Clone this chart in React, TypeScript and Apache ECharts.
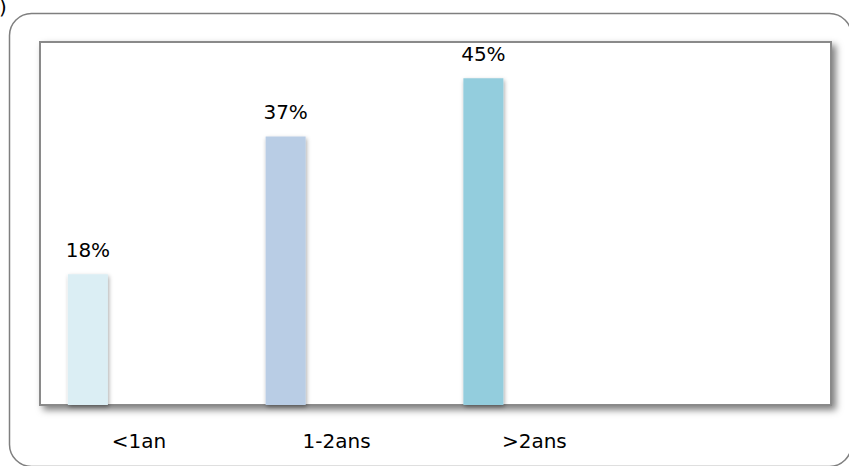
import React, { useEffect, useRef } from "react";
import * as echarts from "echarts";

// Share of respondents by seniority
const categories = ["<1an", "1-2ans", ">2ans", ""];
const shares = [18, 37, 45, null];
const barColors = ["#DBEEF4", "#B9CDE5", "#93CDDD"];
const yMax = 50;

const FONT = "DejaVu Sans";

export default function App() {
  const ref = useRef<HTMLDivElement>(null);

  useEffect(() => {
    if (!ref.current) return;
    const chart = echarts.init(ref.current, null, { renderer: "svg" });

    const data = shares.map((v, i) =>
      v === null
        ? null
        : { value: v, itemStyle: { color: barColors[i % barColors.length] } }
    );

    chart.setOption({
      animation: false,
      backgroundColor: "#ffffff",
      textStyle: { fontFamily: FONT },
      graphic: [
        {
          type: "rect",
          z: -10,
          shape: { x: 9.5, y: 13.5, width: 842, height: 453, r: 22 },
          style: { fill: "#ffffff", stroke: "#7f7f7f", lineWidth: 1.5 },
        },
        {
          type: "text",
          x: -1,
          y: -3,
          style: {
            text: ")",
            font: `20px '${FONT}'`,
            fill: "#000000",
            textVerticalAlign: "alphabetic",
          },
        },
      ],
      grid: {
        left: 40,
        top: 42,
        right: 18,
        bottom: 61,
        show: true,
        backgroundColor: "#ffffff",
        borderColor: "#8a8a8a",
        borderWidth: 2,
        shadowColor: "rgba(0,0,0,0.5)",
        shadowBlur: 7,
        shadowOffsetX: 4,
        shadowOffsetY: 4,
      },
      xAxis: {
        type: "category",
        data: categories,
        axisLine: { show: false },
        axisTick: { show: false },
        axisLabel: {
          color: "#000000",
          fontFamily: FONT,
          fontSize: 20,
          margin: 26,
        },
      },
      yAxis: {
        type: "value",
        min: 0,
        max: yMax,
        show: false,
        splitLine: { show: false },
      },
      series: [
        {
          type: "bar",
          data,
          barWidth: 40,
          barGap: "155%",
          itemStyle: {
            shadowColor: "rgba(0,0,0,0.35)",
            shadowBlur: 4,
            shadowOffsetX: 1,
            shadowOffsetY: 2,
          },
          label: {
            show: true,
            position: "top",
            distance: 14,
            formatter: "{c}%",
            color: "#000000",
            fontFamily: FONT,
            fontSize: 20,
          },
        },
        {
          type: "bar",
          data: categories.map(() => null),
          barWidth: 40,
        },
      ],
    });

    return () => chart.dispose();
  }, []);

  return (
    <div
      ref={ref}
      style={{ position: "fixed", left: 0, top: 0, width: 849, height: 466 }}
    />
  );
}
